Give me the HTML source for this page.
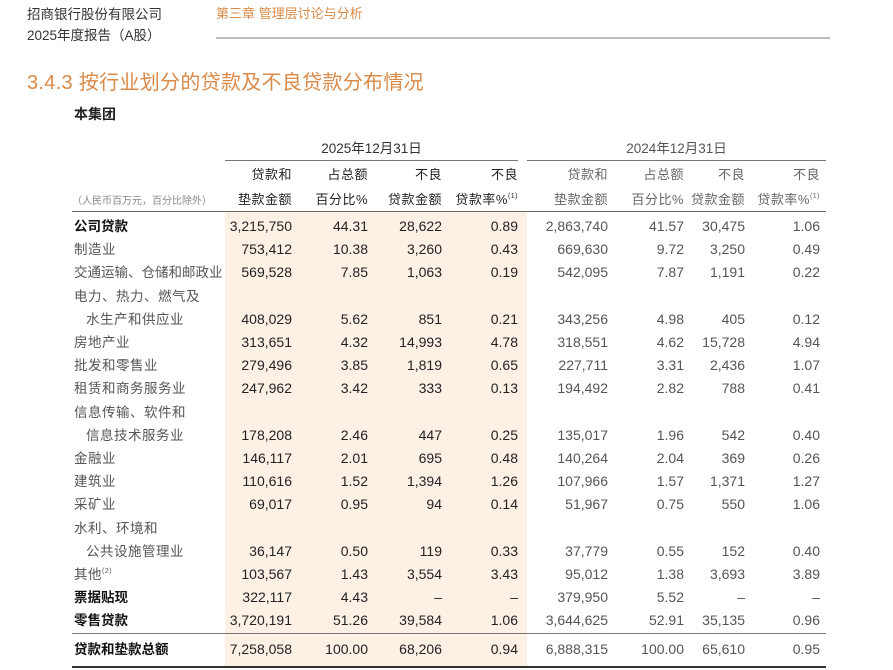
<!DOCTYPE html>
<html><head><meta charset="utf-8"><style>
*{margin:0;padding:0;box-sizing:border-box}
body{width:893px;height:670px;background:#fff;position:relative;overflow:hidden;font-family:"Liberation Sans","Noto Sans CJK SC",sans-serif;color:#333}
sup{line-height:0;vertical-align:6px}
.a{position:absolute;white-space:nowrap}
.hl{position:absolute;left:225px;top:211px;width:302px;height:455px;background:#fdf1e6}
.row{position:absolute;left:0;width:893px;height:23px;font-size:13.5px;line-height:23px}
.row .l{position:absolute;left:74px;color:#555;letter-spacing:0.5px}
.row .b{color:#111;font-weight:bold;letter-spacing:0}
.c{position:absolute;text-align:right;font-family:"Liberation Sans Narrow","Liberation Sans",sans-serif;font-size:14px}
.c1{left:215px;width:77px}.c2{left:300px;width:68px}.c3{left:370px;width:72px}.c4{left:446px;width:72px}
.c5{left:528px;width:80px}.c6{left:612px;width:72px}.c7{left:686px;width:59px}.c8{left:750px;width:70px}
.c1,.c2,.c3,.c4{color:#222}
.c5,.c6,.c7,.c8{color:#555}
.h{position:absolute;text-align:right;font-size:13px;line-height:25px;letter-spacing:0.5px;white-space:nowrap}
.line{position:absolute;height:1px;background:#555}
</style></head><body>
<div class="a" style="left:27px;top:3px;font-size:13.5px;color:#333">招商银行股份有限公司</div>
<div class="a" style="left:27px;top:24px;font-size:13.5px;color:#333">2025年度报告（A股）</div>
<div class="a" style="left:216px;top:3px;font-size:13px;color:#d98a48">第三章 管理层讨论与分析</div>
<div class="line" style="left:216px;top:37px;width:614px;height:2px;background:#bbb"></div>
<div class="a" style="left:27px;top:66px;font-size:20px;color:#d98a48;letter-spacing:0.3px">3.4.3 按行业划分的贷款及不良贷款分布情况</div>
<div class="a" style="left:74px;top:104px;font-size:14px;font-weight:bold;color:#222">本集团</div>
<div class="hl"></div>
<div class="a" style="left:225px;top:137px;width:293px;text-align:center;font-size:13.5px;color:#333">2025年12月31日</div>
<div class="a" style="left:527px;top:137px;width:299px;text-align:center;font-size:13.5px;color:#555">2024年12月31日</div>
<div class="line" style="left:225px;top:160px;width:293px;background:#777"></div>
<div class="line" style="left:527px;top:160px;width:299px;background:#777"></div>
<div class="h" style="left:205px;top:162px;width:87px;color:#222">贷款和<br>垫款金额</div>
<div class="h" style="left:290px;top:162px;width:78px;color:#222">占总额<br>百分比%</div>
<div class="h" style="left:360px;top:162px;width:82px;color:#222">不良<br>贷款金额</div>
<div class="h" style="left:440px;top:162px;width:78px;color:#222">不良<br>贷款率%<sup style="font-size:7px">(1)</sup></div>
<div class="h" style="left:518px;top:162px;width:90px;color:#666">贷款和<br>垫款金额</div>
<div class="h" style="left:606px;top:162px;width:78px;color:#666">占总额<br>百分比%</div>
<div class="h" style="left:660px;top:162px;width:85px;color:#666">不良<br>贷款金额</div>
<div class="h" style="left:740px;top:162px;width:80px;color:#666">不良<br>贷款率%<sup style="font-size:7px">(1)</sup></div>
<div class="a" style="left:72px;top:192px;font-size:10px;color:#888">（人民币百万元，百分比除外）</div>
<div class="line" style="left:72px;top:211px;width:754px;background:#666"></div>

<div class="row" style="top:215px"><span class="l b">公司贷款</span><span class="c c1">3,215,750</span><span class="c c2">44.31</span><span class="c c3">28,622</span><span class="c c4">0.89</span><span class="c c5">2,863,740</span><span class="c c6">41.57</span><span class="c c7">30,475</span><span class="c c8">1.06</span></div>
<div class="row" style="top:238px"><span class="l">制造业</span><span class="c c1">753,412</span><span class="c c2">10.38</span><span class="c c3">3,260</span><span class="c c4">0.43</span><span class="c c5">669,630</span><span class="c c6">9.72</span><span class="c c7">3,250</span><span class="c c8">0.49</span></div>
<div class="row" style="top:261px"><span class="l" style="letter-spacing:0">交通运输、仓储和邮政业</span><span class="c c1">569,528</span><span class="c c2">7.85</span><span class="c c3">1,063</span><span class="c c4">0.19</span><span class="c c5">542,095</span><span class="c c6">7.87</span><span class="c c7">1,191</span><span class="c c8">0.22</span></div>
<div class="row" style="top:285px"><span class="l">电力、热力、燃气及</span></div>
<div class="row" style="top:308px"><span class="l" style="left:86px">水生产和供应业</span><span class="c c1">408,029</span><span class="c c2">5.62</span><span class="c c3">851</span><span class="c c4">0.21</span><span class="c c5">343,256</span><span class="c c6">4.98</span><span class="c c7">405</span><span class="c c8">0.12</span></div>
<div class="row" style="top:331px"><span class="l">房地产业</span><span class="c c1">313,651</span><span class="c c2">4.32</span><span class="c c3">14,993</span><span class="c c4">4.78</span><span class="c c5">318,551</span><span class="c c6">4.62</span><span class="c c7">15,728</span><span class="c c8">4.94</span></div>
<div class="row" style="top:354px"><span class="l">批发和零售业</span><span class="c c1">279,496</span><span class="c c2">3.85</span><span class="c c3">1,819</span><span class="c c4">0.65</span><span class="c c5">227,711</span><span class="c c6">3.31</span><span class="c c7">2,436</span><span class="c c8">1.07</span></div>
<div class="row" style="top:377px"><span class="l">租赁和商务服务业</span><span class="c c1">247,962</span><span class="c c2">3.42</span><span class="c c3">333</span><span class="c c4">0.13</span><span class="c c5">194,492</span><span class="c c6">2.82</span><span class="c c7">788</span><span class="c c8">0.41</span></div>
<div class="row" style="top:401px"><span class="l">信息传输、软件和</span></div>
<div class="row" style="top:424px"><span class="l" style="left:86px">信息技术服务业</span><span class="c c1">178,208</span><span class="c c2">2.46</span><span class="c c3">447</span><span class="c c4">0.25</span><span class="c c5">135,017</span><span class="c c6">1.96</span><span class="c c7">542</span><span class="c c8">0.40</span></div>
<div class="row" style="top:447px"><span class="l">金融业</span><span class="c c1">146,117</span><span class="c c2">2.01</span><span class="c c3">695</span><span class="c c4">0.48</span><span class="c c5">140,264</span><span class="c c6">2.04</span><span class="c c7">369</span><span class="c c8">0.26</span></div>
<div class="row" style="top:470px"><span class="l">建筑业</span><span class="c c1">110,616</span><span class="c c2">1.52</span><span class="c c3">1,394</span><span class="c c4">1.26</span><span class="c c5">107,966</span><span class="c c6">1.57</span><span class="c c7">1,371</span><span class="c c8">1.27</span></div>
<div class="row" style="top:493px"><span class="l">采矿业</span><span class="c c1">69,017</span><span class="c c2">0.95</span><span class="c c3">94</span><span class="c c4">0.14</span><span class="c c5">51,967</span><span class="c c6">0.75</span><span class="c c7">550</span><span class="c c8">1.06</span></div>
<div class="row" style="top:517px"><span class="l">水利、环境和</span></div>
<div class="row" style="top:540px"><span class="l" style="left:86px">公共设施管理业</span><span class="c c1">36,147</span><span class="c c2">0.50</span><span class="c c3">119</span><span class="c c4">0.33</span><span class="c c5">37,779</span><span class="c c6">0.55</span><span class="c c7">152</span><span class="c c8">0.40</span></div>
<div class="row" style="top:563px"><span class="l">其他<sup style="font-size:7px">(2)</sup></span><span class="c c1">103,567</span><span class="c c2">1.43</span><span class="c c3">3,554</span><span class="c c4">3.43</span><span class="c c5">95,012</span><span class="c c6">1.38</span><span class="c c7">3,693</span><span class="c c8">3.89</span></div>
<div class="row" style="top:586px"><span class="l b">票据贴现</span><span class="c c1">322,117</span><span class="c c2">4.43</span><span class="c c3">–</span><span class="c c4">–</span><span class="c c5">379,950</span><span class="c c6">5.52</span><span class="c c7">–</span><span class="c c8">–</span></div>
<div class="row" style="top:609px"><span class="l b">零售贷款</span><span class="c c1">3,720,191</span><span class="c c2">51.26</span><span class="c c3">39,584</span><span class="c c4">1.06</span><span class="c c5">3,644,625</span><span class="c c6">52.91</span><span class="c c7">35,135</span><span class="c c8">0.96</span></div>
<div class="line" style="left:72px;top:633px;width:754px;background:#777"></div>
<div class="row" style="top:638px"><span class="l b">贷款和垫款总额</span><span class="c c1">7,258,058</span><span class="c c2">100.00</span><span class="c c3">68,206</span><span class="c c4">0.94</span><span class="c c5">6,888,315</span><span class="c c6">100.00</span><span class="c c7">65,610</span><span class="c c8">0.95</span></div>
<div class="line" style="left:72px;top:666px;width:754px;height:2px;background:#333"></div>
</body></html>
